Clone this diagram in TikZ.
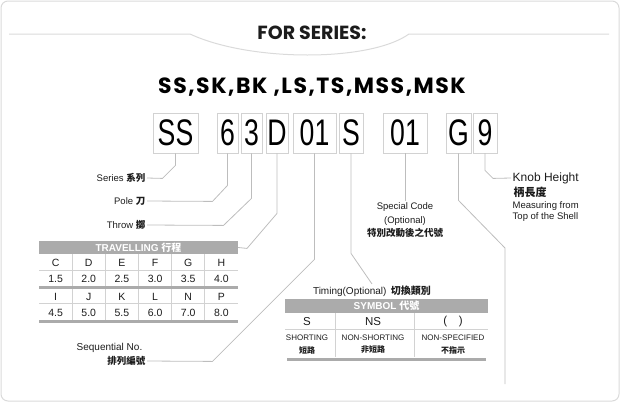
\documentclass[tikz,border=0pt]{standalone}
\usepackage{fontspec}
\setmainfont{Liberation Sans}
\newfontfamily\cjk{Noto Sans CJK TC}
\newfontfamily\headfont{Poppins}
\newfontfamily\wideheadfont[LetterSpace=7]{Poppins}
\newfontfamily\codefont[FakeStretch=0.72]{Liberation Sans}
\usetikzlibrary{calc}
\definecolor{framegray}{HTML}{DADADA}
\definecolor{leadgray}{HTML}{BDBDBD}
\definecolor{boxgray}{HTML}{D2D2D2}
\definecolor{bargray}{HTML}{ABABAB}
\definecolor{inkgray}{HTML}{1C1C1C}
\newcommand\zhtext[1]{{\cjk\bfseries #1}}
\tikzset{
  lead/.style={draw=leadgray, line width=0.8pt},
  codebox/.style={draw=boxgray, line width=0.8pt, minimum height=40, inner sep=0,
    font=\codefont\fontsize{37}{37}\selectfont, text=black},
  lbl/.style={font=\fontsize{9.5}{13.5}\selectfont, text=inkgray, inner sep=1.5},
  bar/.style={fill=bargray, text=white, inner sep=0,
    font=\bfseries\fontsize{10}{10}\selectfont},
  cell/.style={font=\fontsize{10.5}{10.5}\selectfont, text=inkgray, inner sep=0},
  thinrule/.style={draw=boxgray, line width=0.6pt},
  thickrule/.style={draw=bargray, line width=3pt}
}
\begin{document}
\begin{tikzpicture}[x=1pt,y=-1pt]
%%%%% START %%%%%
\useasboundingbox (0,0) rectangle (620,402);
\draw[framegray, line width=1pt, rounded corners=7] (1,1) rectangle (619,401);

% heading
\draw[framegray, line width=1pt] (9,34) -- (190,34) .. controls (250,62) and (370,62) .. (409,34) -- (609,34);
\node[font=\headfont\bfseries\fontsize{19}{19}\selectfont, text=inkgray] (title) at (312,33) {FOR SERIES:};
\node[font=\wideheadfont\bfseries\fontsize{22}{22}\selectfont, text=black] (series) at (312,87) {SS,SK,BK ,LS,TS,MSS,MSK};

% code boxes
\node[codebox, minimum width=45] (ss) at (175.5,133) {SS};
\node[codebox, minimum width=21] (six) at (227.5,133) {6};
\node[codebox, minimum width=21] (three) at (251.5,133) {3};
\node[codebox, minimum width=22] (dd) at (277,133) {D};
\node[codebox, minimum width=43] (seq) at (314.5,133) {01};
\node[codebox, minimum width=24] (tim) at (351,133) {S};
\node[codebox, minimum width=44] (spc) at (405,133) {01};
\node[codebox, minimum width=25] (gg) at (458.5,133) {G};
\node[codebox, minimum width=24] (nine) at (485,133) {9};

% labels
\node[lbl, anchor=east] (serieslbl) at (147,178) {Series \zhtext{系列}};
\node[lbl, anchor=east] (polelbl) at (147,201) {Pole \zhtext{刀}};
\node[lbl, anchor=east] (throwlbl) at (147,225) {Throw \zhtext{擲}};
\node[lbl, anchor=east, font=\fontsize{10}{10}\selectfont] (seqen) at (144,348) {Sequential No.};
\node[lbl, anchor=east] (seqzh) at (147,361) {\zhtext{排列編號}};
\node[lbl, font=\fontsize{10}{10}\selectfont] (timing) at (372,291) {Timing(Optional)\, \zhtext{切換類別}};
\node[lbl, anchor=north, align=center] (special) at (405,201) {Special Code\\(Optional)\\\zhtext{特別改動後之代號}};
\node[lbl, anchor=west, font=\fontsize{12}{12}\selectfont] (knob) at (511,178) {Knob Height};
\node[lbl, anchor=west, font=\fontsize{11}{11}\selectfont] (knobzh) at (512,192) {\zhtext{柄長度}};
\node[lbl, anchor=north west, align=left, font=\fontsize{9.5}{11}\selectfont] (measure) at (511,200) {Measuring from\\Top of the Shell};

% lead lines
\coordinate (gturn) at (505,248);
\coordinate (gend) at (505,384);
\draw[lead] (ss.south) -- ++(0,12) -- ++(-13,13) -- (serieslbl.east);
\draw[lead] (six.south) -- ++(0,32) -- ++(-15,16) -- (polelbl.east);
\draw[lead] (three.south) -- ++(0,45) -- ++(-28,27) -- (throwlbl.east);
\draw[lead] (seq.south) -- ++(0,106) -- ++(-102,102) -- (seqzh.east);
\draw[lead] (tim.south) -- ++(0,100) -- (timing.north);
\draw[lead] (spc.south) -- (special.north);
\draw[lead] (gg.south) -- ++(0,47) -- (gturn) -- (gend);
\draw[lead] (nine.south) -- ++(0,17) -- ++(8,8) -- (knob.west);

% travelling table
\node[bar, minimum width=199, minimum height=13] (travel) at (138.5,247.5) {TRAVELLING \zhtext{行程}};
\draw[lead] (dd.south) -- ++(0,60) -- ++(-30,35) -- (travel.east);
\foreach \y in {270,303} \draw[thinrule] (39,\y) -- (238,\y);
\foreach \x in {72,105,138,171,204} \draw[thinrule] (\x,254) -- (\x,320);
\foreach \y in {287,321} \draw[thickrule] (39,\y) -- (238,\y);
\foreach \l/\v [count=\i] in {C/1.5,D/2.0,E/2.5,F/3.0,G/3.5,H/4.0} {
  \node[cell] (ta\i) at (22.4+33.17*\i,263) {\l};
  \node[cell] (tb\i) at (22.4+33.17*\i,278.5) {\v};
}
\foreach \l/\v [count=\i] in {I/4.5,J/5.0,K/5.5,L/6.0,N/7.0,P/8.0} {
  \node[cell] (tc\i) at (22.4+33.17*\i,297) {\l};
  \node[cell] (td\i) at (22.4+33.17*\i,312.5) {\v};
}

% symbol table
\node[bar, minimum width=203, minimum height=14] (symbol) at (386.5,306) {SYMBOL \zhtext{代號}};
\draw[thinrule] (285,329) -- (488,329);
\foreach \x in {335,414} \draw[thinrule] (\x,313) -- (\x,357);
\draw[thickrule] (287,359) -- (486,359);
\node[cell, font=\fontsize{11.5}{11.5}\selectfont] (s1) at (307,322) {S};
\node[cell, font=\fontsize{11.5}{11.5}\selectfont] (s2) at (373,322) {NS};
\node[cell, font=\fontsize{11.5}{11.5}\selectfont] (s3) at (453,322) {(\quad)};
\node[cell, font=\fontsize{8}{8}\selectfont] (n1) at (307,338) {SHORTING};
\node[cell, font=\fontsize{8}{8}\selectfont] (n2) at (373,338) {NON-SHORTING};
\node[cell, font=\fontsize{8}{8}\selectfont] (n3) at (453,338) {NON-SPECIFIED};
\node[cell, font=\fontsize{8}{8}\selectfont] (z1) at (307,350) {\zhtext{短路}};
\node[cell, font=\fontsize{8}{8}\selectfont] (z2) at (373,350) {\zhtext{非短路}};
\node[cell, font=\fontsize{8}{8}\selectfont] (z3) at (453,350) {\zhtext{不指示}};
%%%%% END %%%%%
\end{tikzpicture}
\end{document}
